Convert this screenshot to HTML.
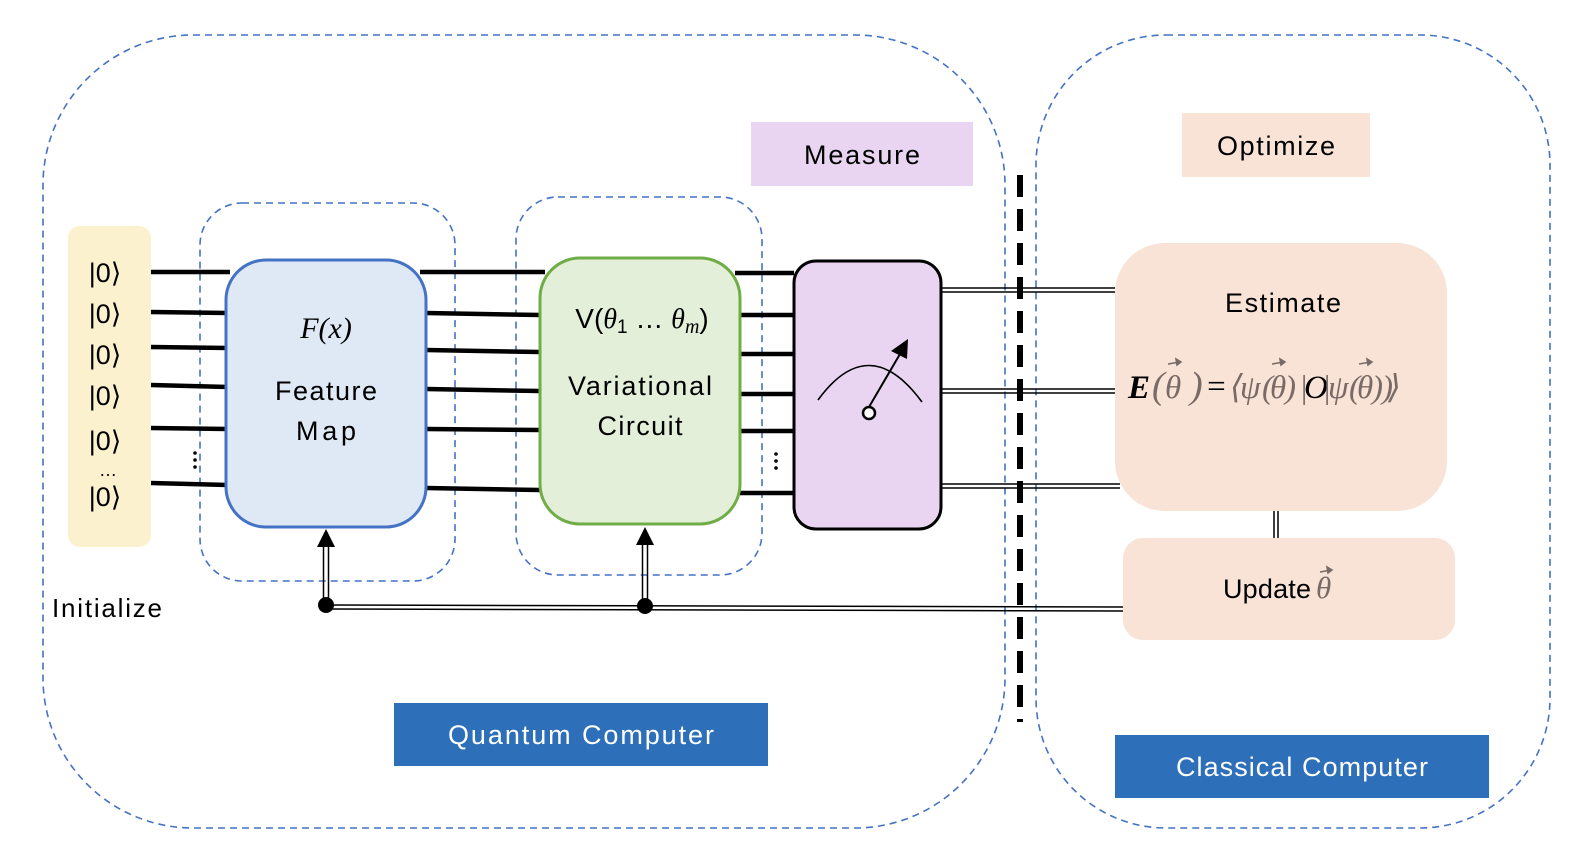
<!DOCTYPE html>
<html><head><meta charset="utf-8"><style>
html,body{margin:0;padding:0;background:#fff;}
svg{display:block;}
text{font-family:"Liberation Sans",sans-serif;}
.m, .m text{font-family:"Liberation Serif","DejaVu Serif",serif;font-style:italic;}
</style></head><body>
<svg width="1570" height="852" viewBox="0 0 1570 852" xmlns="http://www.w3.org/2000/svg">
<rect x="43" y="35" width="962" height="793" rx="150" fill="none" stroke="#4472c4" stroke-width="1.6" stroke-dasharray="7,5"/>
<rect x="1036" y="35" width="514" height="793" rx="130" fill="none" stroke="#4472c4" stroke-width="1.6" stroke-dasharray="7,5"/>
<rect x="200" y="203" width="255" height="378" rx="42" fill="none" stroke="#4472c4" stroke-width="1.6" stroke-dasharray="7,5"/>
<rect x="516" y="197" width="246" height="378" rx="42" fill="none" stroke="#4472c4" stroke-width="1.6" stroke-dasharray="7,5"/>
<rect x="751" y="122" width="222" height="64" fill="#e9d5f1"/>
<text x="862" y="164" font-size="27" text-anchor="middle" textLength="116">Measure</text>
<rect x="1182" y="113" width="188" height="64" fill="#f8e3d6"/>
<text x="1276" y="155" font-size="27" text-anchor="middle" textLength="118">Optimize</text>
<line x1="1020" y1="175" x2="1020" y2="722" stroke="#000" stroke-width="6" stroke-dasharray="22,12"/>
<rect x="68" y="226" width="83" height="321" rx="12" fill="#fcf1cf"/>
<g font-size="27" text-anchor="middle" font-family="'DejaVu Sans',sans-serif">
<text x="105" y="282">|0⟩</text>
<text x="105" y="323">|0⟩</text>
<text x="105" y="364">|0⟩</text>
<text x="105" y="405">|0⟩</text>
<text x="105" y="450">|0⟩</text>
<text x="105" y="506">|0⟩</text>
<text x="108" y="476" font-size="18">…</text>
</g>
<text x="52" y="617" font-size="26" textLength="110">Initialize</text>
<g stroke="#000" stroke-width="4.5">
<line x1="151" y1="272" x2="230" y2="272"/><line x1="151" y1="312" x2="228" y2="313"/>
<line x1="151" y1="347" x2="228" y2="348"/><line x1="151" y1="385" x2="228" y2="387"/>
<line x1="151" y1="428" x2="228" y2="429"/><line x1="151" y1="483" x2="228" y2="485"/>
<line x1="420" y1="272" x2="545" y2="272"/><line x1="426" y1="313" x2="540" y2="315"/>
<line x1="426" y1="350" x2="540" y2="352"/><line x1="426" y1="389" x2="540" y2="391"/>
<line x1="426" y1="429" x2="540" y2="430"/><line x1="426" y1="488" x2="540" y2="490"/>
<line x1="735" y1="273" x2="794" y2="273"/><line x1="740" y1="315" x2="794" y2="315"/>
<line x1="740" y1="354" x2="794" y2="354"/><line x1="740" y1="394" x2="794" y2="394"/>
<line x1="740" y1="431" x2="794" y2="431"/><line x1="740" y1="493" x2="794" y2="493"/>
</g>
<g fill="#000"><circle cx="195" cy="453" r="1.8"/><circle cx="195" cy="460" r="1.8"/><circle cx="195" cy="467" r="1.8"/>
<circle cx="776" cy="454" r="1.8"/><circle cx="776" cy="461" r="1.8"/><circle cx="776" cy="468" r="1.8"/></g>
<rect x="226" y="260" width="200" height="267" rx="40" fill="#dfe9f5" stroke="#4472c4" stroke-width="3"/>
<text x="326" y="338" font-size="30" text-anchor="middle" class="m">F(x)</text>
<text x="326" y="400" font-size="27" text-anchor="middle" textLength="102">Feature</text>
<text x="326" y="440" font-size="27" text-anchor="middle" textLength="60">Map</text>
<rect x="540" y="258" width="200" height="266" rx="40" fill="#e4efd9" stroke="#70ad47" stroke-width="3"/>
<text x="642" y="328" font-size="28" text-anchor="middle">V(<tspan class="m">θ</tspan><tspan font-size="19" dy="5">1</tspan><tspan dy="-5"> … </tspan><tspan class="m">θ</tspan><tspan class="m" font-size="20" dy="5">m</tspan><tspan dy="-5">)</tspan></text>
<text x="640" y="395" font-size="27" text-anchor="middle" textLength="144">Variational</text>
<text x="640" y="435" font-size="27" text-anchor="middle" textLength="85">Circuit</text>
<rect x="794" y="261" width="147" height="268" rx="22" fill="#e9d5f1" stroke="#000" stroke-width="3"/>
<path d="M818 400 Q869 330 922 402" fill="none" stroke="#000" stroke-width="1.6"/>
<line x1="869" y1="407" x2="900" y2="354" stroke="#000" stroke-width="2"/>
<polygon points="908,339 891,351 907,359" fill="#000"/>
<circle cx="869" cy="413" r="6" fill="#fff" stroke="#000" stroke-width="2.5"/>
<g stroke="#000" stroke-width="1.5">
<line x1="941" y1="288" x2="1115" y2="288"/><line x1="941" y1="292" x2="1115" y2="292"/>
<line x1="941" y1="389" x2="1115" y2="389"/><line x1="941" y1="393" x2="1115" y2="393"/>
<line x1="941" y1="484" x2="1120" y2="484"/><line x1="941" y1="488" x2="1120" y2="488"/>
<line x1="326" y1="605" x2="1123" y2="607"/><line x1="326" y1="609" x2="1123" y2="611"/>
<line x1="1274" y1="511" x2="1274" y2="538"/><line x1="1278" y1="511" x2="1278" y2="538"/>
<line x1="323.5" y1="604" x2="323.5" y2="545"/><line x1="328.5" y1="604" x2="328.5" y2="545"/>
<line x1="642.5" y1="606" x2="642.5" y2="543"/><line x1="647.5" y1="606" x2="647.5" y2="543"/>
</g>
<polygon points="326,529 317,547 335,547" fill="#000"/>
<polygon points="645,527 636,545 654,545" fill="#000"/>
<circle cx="326" cy="605" r="8" fill="#000"/>
<circle cx="645" cy="606" r="8" fill="#000"/>
<rect x="1115" y="243" width="332" height="268" rx="50" fill="#f8e3d6"/>
<text x="1283" y="312" font-size="27" text-anchor="middle" textLength="116">Estimate</text>
<g font-size="33" class="m" fill="#7a6a66">
<text x="1128" y="398" fill="#000" font-weight="bold">E</text>
<text x="1152" y="398" font-style="normal" font-size="38">(</text>
<text x="1165" y="398">θ</text>
<text x="1190" y="398" font-style="normal" font-size="38">)</text>
<text x="1205" y="397" font-style="normal" fill="#000">=</text>
<text x="1230" y="398" font-style="normal">⟨</text>
<text x="1240" y="398">ψ</text>
<text x="1262" y="398" font-style="normal">(</text>
<text x="1270" y="398">θ</text>
<text x="1285" y="398" font-style="normal">)</text>
<text x="1299" y="398" font-style="normal">|</text>
<text x="1304" y="398" fill="#000">O</text>
<text x="1322" y="398" font-style="normal">|</text>
<text x="1328" y="398">ψ</text>
<text x="1349" y="398" font-style="normal">(</text>
<text x="1357" y="398">θ</text>
<text x="1372" y="398" font-style="normal">)</text>
<text x="1382" y="398" font-style="normal">)</text>
<text x="1388" y="398" font-style="normal">⟩</text>
</g>
<g stroke="#7a6a66" stroke-width="1.6" fill="#7a6a66">
<line x1="1168" y1="364" x2="1180" y2="362"/><polygon points="1181,362 1176,359 1177,365"/>
<line x1="1272" y1="364" x2="1284" y2="362"/><polygon points="1285,362 1280,359 1281,365"/>
<line x1="1359" y1="364" x2="1371" y2="362"/><polygon points="1372,362 1367,359 1368,365"/>
</g>
<rect x="1123" y="538" width="332" height="102" rx="20" fill="#f8e3d6"/>
<text x="1223" y="598" font-size="27" textLength="88">Update</text>
<text x="1316" y="598" font-size="31" class="m" fill="#7a6a66">θ</text>
<g stroke="#7a6a66" stroke-width="1.6" fill="#7a6a66"><line x1="1320" y1="572" x2="1331" y2="570"/><polygon points="1332,570 1327,567 1328,573"/></g>
<rect x="394" y="703" width="374" height="63" fill="#2e6fba"/>
<text x="581" y="744" font-size="27" fill="#fff" text-anchor="middle" textLength="266">Quantum Computer</text>
<rect x="1115" y="735" width="374" height="63" fill="#2e6fba"/>
<text x="1302" y="776" font-size="27" fill="#fff" text-anchor="middle" textLength="252">Classical Computer</text>
</svg>
</body></html>
